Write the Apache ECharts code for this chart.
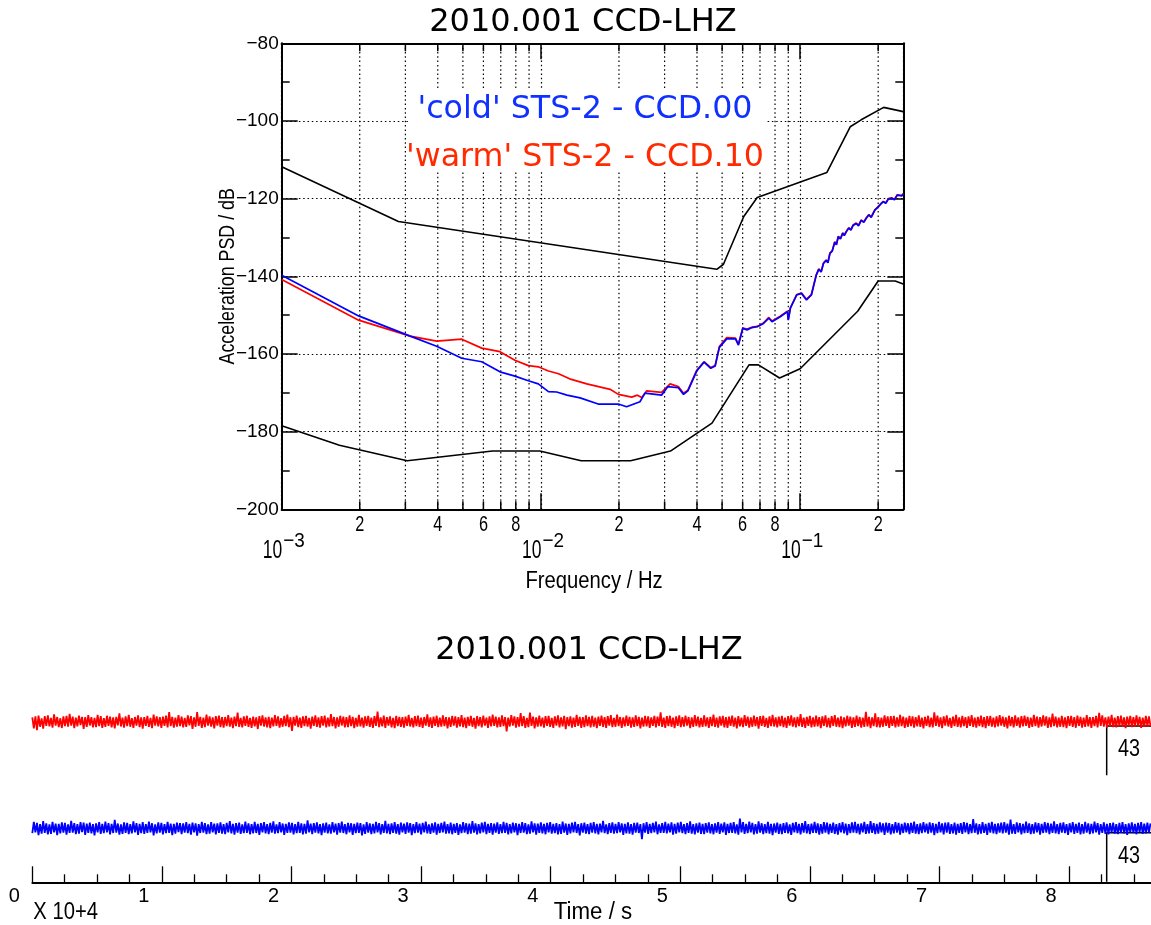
<!DOCTYPE html>
<html><head><meta charset="utf-8">
<script src="https://cdn.jsdelivr.net/npm/echarts@6/dist/echarts.min.js"></script>
<style>html,body{margin:0;padding:0;background:#fff}#c{width:1151px;height:925px}</style>
</head><body><div id="c"></div>
<script>
// ---------- text ----------
const titleText = '2010.001 CCD-LHZ';
const legendBlue = "'cold' STS-2 - CCD.00";
const legendRed = "'warm' STS-2 - CCD.10";
const xName = 'Frequency / Hz';
const yName = 'Acceleration PSD / dB';
const timeName = 'Time / s';
const timeExp = 'X 10+4';
const scaleBarLabel = '43';

// ---------- PSD data (frequency Hz, dB) ----------
const psdFreqBlue = [0.001,0.00198,0.00313,0.00396,0.00495,0.00591,0.00695,0.00794,0.00894,0.00977,0.01069,0.0115,0.0126,0.01416,0.01663,0.0185,0.0199,0.0214,0.0241,0.0252,0.0292,0.0309,0.0339,0.0355,0.0369,0.0399,0.0426,0.0452,0.0470,0.0488,0.0521,0.0563,0.0578,0.0601,0.0624,0.0652,0.0683,0.0720,0.0757,0.0779,0.0838,0.0893,0.0900,0.0917,0.0970,0.1012,0.1058,0.1105,0.1154,0.118,0.1205,0.1230,0.126,0.128,0.1303,0.133,0.136,0.138,0.1403,0.143,0.146,0.148,0.1508,0.154,0.157,0.160,0.1646,0.168,0.172,0.176,0.1797,0.184,0.188,0.1945,0.199,0.204,0.2093,0.214,0.219,0.2254,0.231,0.237,0.2467,0.25];
const psdBlue = [-139.7,-150.2,-155.4,-158.0,-161.1,-162.0,-164.6,-165.7,-166.9,-167.7,-169.7,-169.8,-170.6,-171.3,-172.9,-172.9,-172.9,-173.6,-172.3,-170.1,-170.6,-168.4,-168.7,-170.4,-169.5,-164.4,-162.1,-163.7,-163.1,-158.3,-156.1,-156.1,-157.7,-153.4,-153.8,-153.2,-153.0,-152.2,-150.8,-151.7,-150.4,-149.1,-151.3,-148.2,-144.8,-144.4,-146.1,-144.8,-139.7,-138.2,-138.9,-136.7,-135.9,-136.5,-134.1,-133.5,-131.2,-131.9,-129.8,-130.4,-128.9,-129.5,-128.5,-127.6,-128.1,-126.9,-126.4,-127.0,-125.6,-126.1,-125.1,-124.2,-124.8,-122.9,-122.3,-121.5,-120.8,-121.2,-120.1,-119.9,-120.3,-119.1,-119.3,-118.8];
const psdFreqRed = [0.001,0.00198,0.00313,0.00396,0.00495,0.00591,0.00695,0.00794,0.00894,0.00977,0.01069,0.0117,0.0129,0.01503,0.01849,0.0199,0.0224,0.02355,0.0245,0.0256,0.0292,0.0315,0.0339,0.0355,0.0369,0.0399,0.0426,0.0452,0.0470,0.0488,0.0521,0.0563,0.0578,0.0601,0.0624,0.0652,0.0683,0.0720,0.0757,0.0779,0.0838,0.0893,0.0900,0.0917,0.0970,0.1012,0.1058,0.1105,0.1154,0.118,0.1205,0.1230,0.126,0.128,0.1303,0.133,0.136,0.138,0.1403,0.143,0.146,0.148,0.1508,0.154,0.157,0.160,0.1646,0.168,0.172,0.176,0.1797,0.184,0.188,0.1945,0.199,0.204,0.2093,0.214,0.219,0.2254,0.231,0.237,0.2467,0.25];
const psdRed = [-140.8,-151.3,-155.4,-156.7,-156.2,-158.5,-159.4,-161.6,-163.0,-163.3,-164.4,-165.1,-166.4,-167.7,-169.1,-170.4,-171.1,-170.6,-171.2,-169.5,-169.9,-167.7,-168.4,-170.1,-169.3,-164.2,-162.0,-163.5,-163.0,-158.1,-155.8,-155.9,-157.5,-153.3,-153.6,-153.1,-152.9,-152.1,-150.6,-151.5,-150.3,-149.0,-151.1,-148.1,-144.7,-144.3,-145.9,-144.7,-139.6,-138.1,-138.8,-136.6,-135.8,-136.4,-134.0,-133.4,-131.1,-131.8,-129.7,-130.3,-128.8,-129.4,-128.4,-127.5,-128.0,-126.8,-126.3,-126.9,-125.5,-126.0,-125.0,-124.1,-124.7,-122.8,-122.2,-121.4,-120.7,-121.1,-120.0,-119.8,-120.2,-119.0,-119.2,-118.7];
// high / low noise model curves
const nhnmFreq = [0.001,0.00282,0.0477,0.0506,0.0606,0.0683,0.1267,0.156,0.172,0.21,0.25];
const nhnmDb = [-111.8,-125.9,-138.2,-136.9,-124.6,-119.7,-113.3,-101.5,-99.7,-96.5,-97.6];
const nlnmFreq = [0.001,0.00167,0.00305,0.0065,0.0099,0.0143,0.0222,0.0316,0.0457,0.0635,0.069,0.0833,0.1,0.1667,0.2,0.2326,0.25];
const nlnmDb = [-178.5,-183.5,-187.5,-185.0,-185.0,-187.5,-187.5,-185.0,-177.8,-162.8,-162.8,-166.2,-163.8,-149.0,-141.2,-141.2,-142.0];
// log-axis tick positions
const minorFreqs = [0.002,0.003,0.004,0.005,0.006,0.007,0.008,0.009,0.02,0.03,0.04,0.05,0.06,0.07,0.08,0.09,0.2];
const decadeFreqs = [0.001, 0.01, 0.1];

// ---------- time series (one sample per traceStep seconds) ----------
const traceStep = 120;
const traceRed = [
3.8,-5.9,4.6,-7.5,5.3,-4.4,2.9,-6.1,4.9,-3.7,5.6,-4.0,3.3,-5.2,6.4,-3.5,4.1,-4.8,3.0,-5.5,4.7,-3.9,5.0,-4.3,
6.8,-3.4,4.4,-5.6,3.6,-4.1,5.4,-3.0,4.2,-6.3,3.9,-4.6,5.7,-3.3,4.0,-5.0,3.4,-4.7,6.0,-3.8,4.8,-5.3,3.1,-4.5,
5.2,-3.6,4.5,-4.9,3.7,-5.8,4.3,-3.2,7.4,-4.2,3.5,-5.1,4.6,-3.9,5.9,-4.4,3.2,-5.4,4.1,-3.5,5.5,-4.8,3.8,-6.0,
4.0,-3.7,5.1,-4.5,3.3,-5.7,6.2,-3.4,4.7,-4.1,3.9,-5.5,4.4,-3.6,5.3,-4.9,8.3,-3.8,4.2,-5.2,3.6,-4.3,5.8,-3.9,
4.5,-5.0,3.4,-4.6,5.6,-3.3,4.8,-6.2,3.7,-4.4,8.5,-3.7,4.3,-5.3,3.5,-4.8,6.1,-3.5,4.6,-4.2,3.8,-5.9,4.9,-3.4,
5.4,-4.7,3.9,-5.1,4.1,-3.8,5.7,-4.3,3.6,-5.6,4.5,-3.9,7.9,-4.6,3.4,-5.0,4.7,-3.6,5.2,-4.5,3.3,-5.4,4.4,-4.0,
3.7,-6.4,4.9,-3.5,5.5,-4.2,3.8,-4.9,4.3,-5.7,3.5,-4.1,5.8,-3.7,4.6,-5.2,3.2,-4.4,5.1,-3.9,6.3,-4.7,3.9,-8.0,
4.2,-3.4,5.3,-4.8,3.6,-5.5,4.7,-3.8,5.0,-4.3,3.3,-6.0,4.4,-3.6,5.6,-4.6,3.7,-5.1,4.8,-3.5,5.4,-4.9,3.5,-4.2,
6.6,-3.9,4.1,-5.8,3.8,-4.4,5.2,-3.3,4.5,-5.0,3.9,-4.7,5.5,-3.8,4.2,-5.6,3.4,-4.3,6.0,-4.1,3.6,-5.2,4.7,-3.7,
5.1,-4.5,3.5,-5.3,4.9,-3.6,8.8,-4.8,3.7,-4.0,5.3,-5.4,4.0,-3.5,4.6,-4.9,3.3,-5.7,5.0,-3.8,4.3,-4.6,3.9,-5.1,
4.4,-3.7,5.9,-4.2,3.4,-5.0,4.8,-3.9,5.4,-4.6,3.6,-5.5,4.1,-3.4,6.5,-4.4,3.8,-5.3,4.5,-3.6,5.2,-4.8,3.5,-4.3,
5.6,-3.8,4.0,-5.9,3.7,-4.5,5.1,-3.4,4.6,-5.2,3.9,-4.0,5.7,-4.7,3.5,-5.6,4.3,-3.7,5.0,-4.4,3.4,-6.1,4.8,-3.9,
4.1,-4.9,5.3,-3.5,3.6,-5.4,4.7,-4.1,6.2,-3.6,4.4,-5.0,3.8,-4.6,5.5,-3.9,4.0,-8.4,3.5,-4.2,5.8,-3.5,4.6,-5.1,
3.9,-4.4,7.6,-3.8,4.8,-5.3,3.4,-4.7,8.0,-3.6,4.5,-5.8,3.7,-4.3,5.4,-4.0,3.6,-5.2,4.9,-3.7,5.1,-4.6,3.3,-5.5,
4.7,-3.5,5.5,-4.9,3.8,-4.1,5.2,-6.6,4.0,-3.8,4.6,-5.1,3.5,-4.5,6.0,-3.6,4.3,-5.4,3.9,-4.7,5.6,-3.9,4.2,-5.0,
5.0,-4.2,3.6,-5.6,4.5,-3.7,5.3,-4.5,3.9,-5.3,4.8,-3.5,5.7,-4.8,3.4,-4.4,6.3,-3.9,4.1,-5.5,3.7,-4.1,5.4,-3.6,
4.3,-5.2,3.7,-4.6,5.6,-3.8,4.2,-5.9,3.5,-4.3,5.1,-4.0,4.6,-5.4,3.8,-3.6,5.0,-4.9,4.4,-3.7,8.2,-4.5,3.6,-5.3,
4.9,-3.9,5.2,-4.4,3.5,-5.7,4.6,-3.6,5.5,-4.8,3.9,-4.2,5.3,-3.5,4.1,-5.6,3.7,-4.6,5.8,-3.8,4.5,-5.0,3.4,-4.5,
5.5,-4.1,3.8,-5.4,4.3,-3.9,6.1,-4.6,3.6,-5.1,4.7,-3.4,5.0,-4.9,3.9,-5.5,4.4,-3.7,5.3,-4.3,3.5,-5.8,4.8,-4.0,
3.6,-4.7,5.7,-3.6,4.5,-5.2,3.8,-4.4,5.4,-3.9,4.0,-6.0,4.9,-3.7,5.2,-4.5,3.4,-5.3,4.6,-3.8,5.9,-4.2,3.7,-5.0,
4.4,-3.8,5.1,-4.8,3.5,-5.5,4.8,-3.5,5.6,-4.3,3.7,-5.0,4.2,-3.9,6.7,-4.6,3.6,-5.4,4.3,-3.6,5.0,-4.9,3.8,-4.4,
5.3,-4.0,3.9,-5.6,4.6,-3.7,5.5,-4.7,3.4,-5.2,4.9,-3.6,5.8,-4.4,3.5,-4.8,4.7,-5.7,3.8,-4.1,5.2,-3.5,4.5,-5.3,
3.8,-4.6,5.4,-3.9,4.1,-5.1,3.6,-4.5,8.6,-4.2,4.3,-5.6,3.7,-3.8,7.2,-4.7,4.0,-5.0,3.5,-4.4,5.5,-3.7,4.6,-5.5,
4.8,-3.6,5.0,-4.9,3.7,-4.3,5.9,-3.8,4.4,-5.4,3.5,-4.6,5.1,-3.9,4.7,-5.2,3.9,-4.1,5.6,-4.5,3.6,-5.9,4.2,-3.7,
5.2,-4.8,3.5,-5.0,8.1,-3.6,5.3,-4.4,3.8,-5.7,4.6,-3.5,5.5,-4.2,3.4,-5.3,4.5,-3.9,6.0,-4.6,3.7,-4.9,5.0,-3.8,
4.0,-5.5,4.7,-3.7,5.8,-4.5,3.6,-5.1,4.3,-3.9,5.4,-4.8,3.9,-5.6,4.8,-3.6,5.1,-4.3,3.5,-5.0,4.6,-4.0,5.7,-3.5,
4.5,-4.4,3.7,-5.8,5.2,-3.8,4.1,-4.9,5.6,-3.6,3.8,-5.2,4.9,-4.1,5.3,-3.7,4.2,-5.5,3.6,-4.6,5.9,-3.9,4.4,-5.1,
3.9,-4.2,5.5,-3.5,4.6,-5.4,3.8,-4.7,7.1,-3.9,4.5,-5.0,3.6,-4.4,5.2,-4.8,3.7,-5.6,4.8,-3.6,5.0,-4.5,3.9,-5.3,
5.4,-3.7,4.3,-5.1,3.5,-4.6,5.7,-4.0,4.0,-5.5,3.9,-3.8,5.1,-4.9,7.8,-3.6,5.5,-4.3,3.8,-5.2,4.4,-3.9,6.0,-4.7,
3.6,-5.0,4.9,-3.8,5.3,-4.4,3.7,-5.7,4.5,-3.5,5.0,-4.8,3.9,-4.1,5.6,-3.7,4.2,-5.3,3.5,-4.6,5.2,-4.0,4.6,-3.9];
const traceBlue = [
-4.3,5.6,-3.5,4.8,-5.9,3.7,-4.6,6.2,-3.9,4.4,-5.3,3.4,-4.9,5.7,-3.6,4.1,-6.0,3.8,-4.4,5.2,-3.7,4.7,-5.5,3.5,
-4.0,6.6,-3.8,4.5,-5.1,3.6,-4.7,5.4,-3.4,4.9,-5.8,4.0,-3.9,5.0,-4.5,3.7,-6.3,4.3,-3.6,5.5,-4.8,3.9,-4.2,5.9,
-3.5,4.6,-5.4,3.8,-4.1,7.3,-3.7,4.2,-5.6,3.5,-4.8,5.1,-3.9,4.7,-5.0,3.6,-4.4,6.0,-3.5,4.5,-5.7,3.9,-4.3,5.3,
-4.9,3.7,-4.0,5.8,-3.6,4.4,-6.1,3.5,-4.5,5.2,-3.8,4.8,-5.3,3.6,-4.2,5.6,-3.9,4.1,-5.9,3.8,-4.6,5.0,-3.4,4.6,
-5.2,4.2,-3.7,5.5,-4.3,3.9,-5.6,4.9,-3.5,4.3,-6.4,3.7,-4.1,5.7,-3.8,4.6,-5.1,3.5,-4.7,5.3,-3.6,4.0,-5.4,4.4,
-3.9,5.1,-4.6,3.6,-5.0,4.7,-3.6,6.3,-4.4,3.8,-5.5,4.5,-3.7,5.0,-4.9,3.4,-4.2,5.8,-3.9,4.3,-5.2,3.6,-4.5,5.6,
-4.1,3.9,-5.7,4.6,-3.5,5.3,-4.4,3.7,-5.0,4.8,-3.8,6.1,-4.7,3.5,-4.3,5.4,-3.6,4.2,-5.8,3.9,-4.0,5.1,-3.7,4.7,
-5.4,3.6,-4.2,5.6,-3.9,4.4,-5.3,3.8,-4.6,7.0,-3.5,4.1,-5.1,4.6,-3.7,5.2,-4.5,3.6,-6.0,4.3,-3.8,4.9,-4.4,3.5,
-4.7,5.5,-3.6,4.0,-5.5,4.5,-3.8,5.9,-4.1,3.7,-5.2,4.8,-3.5,4.4,-5.7,3.8,-4.3,5.0,-3.9,4.6,-6.2,3.5,-4.8,5.4,
-3.7,4.3,-5.0,3.9,-4.5,5.7,-3.6,4.6,-5.4,3.6,-4.0,6.4,-4.4,3.8,-5.1,4.2,-3.9,5.3,-4.6,3.7,-5.6,4.9,-3.5,4.1,
-4.8,5.2,-3.8,4.5,-6.0,3.6,-4.3,5.5,-3.7,4.0,-5.3,4.7,-3.6,5.8,-4.5,3.5,-4.9,4.3,-3.8,5.1,-5.5,3.9,-4.1,4.8,
-3.6,5.9,-4.7,3.7,-4.4,5.0,-5.2,3.9,-3.9,4.6,-5.8,3.5,-4.2,5.4,-3.7,4.4,-5.0,4.0,-4.6,6.2,-3.8,4.2,-5.3,3.6,
-4.5,4.9,-3.5,5.6,-5.1,3.8,-4.0,4.5,-5.6,4.1,-3.7,5.2,-4.8,3.6,-4.3,5.7,-3.9,4.7,-5.4,3.7,-4.5,5.0,-3.6,4.4,
-5.9,3.9,-4.1,5.3,-3.8,4.6,-5.0,3.5,-4.6,6.0,-3.6,4.3,-5.5,4.0,-3.9,5.1,-4.4,3.8,-5.2,4.8,-3.5,5.5,-4.7,3.9,
-4.2,4.5,-5.3,3.6,-4.9,5.8,-3.7,4.2,-5.7,3.9,-4.4,4.9,-3.6,5.6,-4.1,3.7,-6.1,4.4,-3.8,5.0,-4.6,3.6,-5.0,4.7,
-3.8,5.4,-4.5,3.8,-5.4,4.1,-3.6,6.5,-4.3,3.5,-5.1,4.6,-3.9,5.2,-4.7,3.9,-4.2,5.5,-3.5,4.3,-5.8,3.8,-4.4,5.1,
-4.6,3.7,-5.6,4.8,-3.7,5.0,-4.1,3.6,-9.6,4.4,-3.8,5.3,-4.9,3.9,-4.3,4.7,-3.6,5.9,-5.2,3.5,-4.0,4.6,-3.9,5.6,
-4.4,4.1,-3.5,5.2,-5.5,3.8,-4.7,4.9,-3.6,5.7,-4.2,3.7,-5.0,4.5,-3.9,6.1,-4.6,3.6,-5.3,4.2,-3.7,5.0,-4.8,3.9,
-5.1,4.6,-3.8,5.2,-4.5,3.6,-5.2,4.3,-3.7,5.5,-4.9,4.0,-3.6,5.1,-5.7,3.8,-4.1,4.8,-3.9,5.4,-4.4,3.5,-5.6,8.4,
-3.6,5.3,-4.8,3.9,-4.2,5.8,-3.5,4.7,-5.4,3.7,-4.6,6.0,-3.8,4.4,-5.1,3.6,-4.3,5.6,-4.7,3.8,-5.9,4.2,-3.7,4.9,
-4.9,3.8,-5.0,4.6,-3.9,5.2,-4.4,3.5,-5.8,4.8,-3.6,5.5,-4.2,3.9,-5.3,4.5,-3.8,6.3,-4.5,3.7,-5.1,4.1,-3.9,5.7,
-4.1,4.4,-5.6,3.6,-4.6,5.4,-3.7,4.9,-5.2,3.8,-4.0,5.0,-4.8,3.6,-5.5,4.6,-3.5,5.3,-4.4,4.0,-6.0,3.7,-4.2,5.2,
-3.8,5.7,-4.3,3.9,-5.4,4.2,-3.6,5.6,-4.9,3.7,-4.5,6.2,-3.9,4.5,-5.0,3.8,-4.7,5.1,-3.6,4.3,-5.7,4.9,-3.7,4.6,
-5.3,3.6,-4.4,5.5,-3.8,4.7,-5.6,3.9,-4.1,5.0,-3.5,4.4,-5.2,4.8,-3.9,5.9,-4.6,3.7,-5.0,4.2,-4.3,5.4,-3.6,4.0,
-4.7,5.1,-3.7,4.5,-5.9,3.8,-4.2,5.7,-3.6,4.3,-5.3,4.9,-3.8,5.2,-4.8,3.6,-4.4,5.0,-5.5,3.9,-3.9,4.6,-4.9,5.5,
-3.6,4.8,-5.1,3.7,-4.3,8.1,-3.9,4.4,-5.4,3.6,-4.7,5.3,-4.0,3.8,-5.7,4.7,-3.7,5.6,-4.5,3.9,-5.0,4.2,-3.8,5.0,
-4.4,5.4,-3.8,4.1,-5.6,7.6,-4.6,3.7,-4.9,5.1,-3.6,4.6,-5.3,3.9,-4.2,5.8,-3.9,4.3,-5.0,3.6,-4.7,5.2,-3.5,4.5,
-5.5,3.9,-4.1,5.5,-3.7,4.8,-5.2,4.0,-3.9,6.0,-4.5,3.6,-5.0,4.7,-3.8,5.1,-4.3,3.7,-5.8,4.4,-3.6,5.3,-4.8,3.8,
-4.0,5.0,-5.4,3.6,-4.6,5.6,-3.8,4.2,-5.1,3.9,-4.4,5.9,-3.6,4.5,-5.5,3.7,-4.0,5.2,-4.9,3.8,-5.3,4.6,-3.7,4.9,
-4.6,3.7,-5.0,4.8,-3.9,5.4,-4.5,3.6,-5.7,4.3,-3.8,5.1,-4.2,3.9,-5.2,4.7,-3.6,5.5,-4.8,4.0,-4.4,5.0,-3.9,4.3];
// amplitude scale bars (time s, value)
const scaleBarT = [90000, 82900, 82900];
const scaleBarRed = [-3.76, -3.76, -46.76];
const scaleBarBlue = [-3.85, -3.85, -46.85];

// ---------- axis settings ----------
const yMin = -200, yMax = -80, yStep = 20;
const fMin = 0.001, fMax = 0.25;
const tMax = 90000, tStep = 10000;

const zip = (a, b) => a.map((v, i) => [v, b[i]]);
const SANS = 'Liberation Sans';
const BLACK = '#000';
const dotted = {color: BLACK, width: 1.2, type: [1.5, 2.8]};

function textEl(text, x, y, size, family, color, align, sx, rot) {
  return {type: 'text', x: x, y: y, z: 20, scaleX: sx || 1, scaleY: 1, rotation: rot || 0,
    style: {text: text, fill: color || BLACK, fontSize: size, fontFamily: family,
      align: align || 'center', verticalAlign: 'middle',
      textAlign: align || 'center', textVerticalAlign: 'middle'}};
}

const chart = echarts.init(document.getElementById('c'), null, {renderer: 'canvas'});
const option = {
  animation: false,
  backgroundColor: '#fff',
  grid: [
    {left: 281.7, top: 43.3, width: 621.6, height: 466, outerBoundsMode: 'none', containLabel: false},
    {left: 32.3, top: 653.13, width: 1166.4, height: 137.14, outerBoundsMode: 'none', containLabel: false},
    {left: 32.3, top: 759.73, width: 1166.4, height: 137.14, outerBoundsMode: 'none', containLabel: false},
    {left: 32.3, top: 800, width: 1166.4, height: 82.3, outerBoundsMode: 'none', containLabel: false}
  ],
  xAxis: [
    {type: 'log', logBase: 10, gridIndex: 0, min: fMin, max: fMax, position: 'bottom',
      axisLine: {show: true, onZero: false, lineStyle: {color: BLACK, width: 2}},
      axisTick: {show: true, inside: true, length: 16, lineStyle: {color: BLACK, width: 1.5}},
      minorTick: {show: false}, minorSplitLine: {show: false},
      axisLabel: {show: false},
      splitLine: {show: true, lineStyle: dotted}},
    {type: 'log', logBase: 10, gridIndex: 0, min: fMin, max: fMax, position: 'top',
      axisLine: {show: true, onZero: false, lineStyle: {color: BLACK, width: 2}},
      axisTick: {show: true, inside: true, length: 16, lineStyle: {color: BLACK, width: 1.5}},
      axisLabel: {show: false}, splitLine: {show: false}},
    {type: 'value', gridIndex: 1, min: 0, max: tMax, show: false},
    {type: 'value', gridIndex: 2, min: 0, max: tMax, show: false},
    {type: 'value', gridIndex: 3, min: 0, max: tMax, interval: tStep, position: 'bottom',
      axisLine: {show: true, onZero: false, lineStyle: {color: BLACK, width: 1.8}},
      axisTick: {show: true, inside: true, length: 16, lineStyle: {color: BLACK, width: 1.3}},
      minorTick: {show: true, splitNumber: 4, length: 8, lineStyle: {color: BLACK, width: 1.3}},
      axisLabel: {show: true, interval: 0, margin: 4, fontSize: 20, fontFamily: SANS, color: BLACK,
        padding: [0, 36, 0, 0],
        formatter: v => (v % tStep === 0 && v <= 80000) ? String(v / tStep) : ''},
      splitLine: {show: false}}
  ],
  yAxis: [
    {type: 'value', gridIndex: 0, min: yMin, max: yMax, interval: yStep, position: 'left',
      axisLine: {show: true, onZero: false, lineStyle: {color: BLACK, width: 2}},
      axisTick: {show: true, inside: true, length: 16, lineStyle: {color: BLACK, width: 1.5}},
      minorTick: {show: true, splitNumber: 2, length: 8, lineStyle: {color: BLACK, width: 1.5}},
      axisLabel: {margin: 3, fontSize: 19, fontFamily: SANS, color: BLACK,
        formatter: v => String(v).replace('-', '\u2212')},
      splitLine: {show: true, lineStyle: dotted}},
    {type: 'value', gridIndex: 0, min: yMin, max: yMax, interval: yStep, position: 'right',
      axisLine: {show: true, onZero: false, lineStyle: {color: BLACK, width: 2}},
      axisTick: {show: true, inside: true, length: 16, lineStyle: {color: BLACK, width: 1.5}},
      minorTick: {show: true, splitNumber: 2, length: 8, lineStyle: {color: BLACK, width: 1.5}},
      axisLabel: {show: false}, splitLine: {show: false}},
    {type: 'value', gridIndex: 1, min: -60, max: 60, show: false},
    {type: 'value', gridIndex: 2, min: -60, max: 60, show: false},
    {type: 'value', gridIndex: 3, min: 0, max: 1, show: false}
  ],
  series: [
    // minor log gridlines, ticks and their labels
    {type: 'custom', coordinateSystem: 'cartesian2d', xAxisIndex: 0, yAxisIndex: 0, silent: true, z: 1, clip: false,
      data: minorFreqs.map(f => [f, yMin]),
      renderItem: function (params, api) {
        const f = api.value(0);
        const pb = api.coord([f, yMin]);
        const pt = api.coord([f, yMax]);
        const x = pb[0];
        const digit = Math.round(f / Math.pow(10, Math.floor(Math.log10(f) + 1e-9)));
        const children = [
          {type: 'line', shape: {x1: x, y1: pb[1], x2: x, y2: pt[1]}, style: {stroke: BLACK, lineWidth: 1.2, lineDash: [1.5, 2.8]}},
          {type: 'line', shape: {x1: x, y1: pb[1], x2: x, y2: pb[1] - 8}, style: {stroke: BLACK, lineWidth: 1.5}},
          {type: 'line', shape: {x1: x, y1: pt[1], x2: x, y2: pt[1] + 8}, style: {stroke: BLACK, lineWidth: 1.5}}
        ];
        if (digit % 2 === 0) {
          children.push(textEl(String(digit), x, pb[1] + 16, 22, SANS, BLACK, 'center', 0.74));
        }
        return {type: 'group', children: children};
      }},
    // decade labels 10^n
    {type: 'custom', coordinateSystem: 'cartesian2d', xAxisIndex: 0, yAxisIndex: 0, silent: true, z: 1, clip: false,
      data: decadeFreqs.map(f => [f, yMin]),
      renderItem: function (params, api) {
        const f = api.value(0);
        const pb = api.coord([f, yMin]);
        const e = Math.round(Math.log10(f));
        return {type: 'group', children: [
          textEl('10', pb[0] + 0.5, pb[1] + 42, 25, SANS, BLACK, 'right', 0.7),
          textEl('\u2212' + (-e), pb[0] + 1.5, pb[1] + 31.5, 21, SANS, BLACK, 'left', 0.9)
        ]};
      }},
    {type: 'line', name: 'NHNM', xAxisIndex: 0, yAxisIndex: 0, data: zip(nhnmFreq, nhnmDb), symbol: 'none', silent: true,
      lineStyle: {color: BLACK, width: 1.6}, z: 2},
    {type: 'line', name: 'NLNM', xAxisIndex: 0, yAxisIndex: 0, data: zip(nlnmFreq, nlnmDb), symbol: 'none', silent: true,
      lineStyle: {color: BLACK, width: 1.6}, z: 2},
    {type: 'line', name: legendRed, xAxisIndex: 0, yAxisIndex: 0, data: zip(psdFreqRed, psdRed), symbol: 'none', silent: true,
      lineStyle: {color: '#ff0000', width: 1.7}, z: 3},
    {type: 'line', name: legendBlue, xAxisIndex: 0, yAxisIndex: 0, data: zip(psdFreqBlue, psdBlue), symbol: 'none', silent: true,
      lineStyle: {color: '#0000ff', width: 1.7}, z: 4},
    {type: 'line', name: 'scaleRed', xAxisIndex: 2, yAxisIndex: 2, data: zip(scaleBarT, scaleBarRed), symbol: 'none', silent: true,
      lineStyle: {color: BLACK, width: 1.5}, z: 2, clip: false},
    {type: 'line', name: 'scaleBlue', xAxisIndex: 3, yAxisIndex: 3, data: zip(scaleBarT, scaleBarBlue), symbol: 'none', silent: true,
      lineStyle: {color: BLACK, width: 1.5}, z: 2, clip: false},
    {type: 'line', name: 'CCD.10', xAxisIndex: 2, yAxisIndex: 2, data: traceRed.map((v, i) => [i * traceStep, v]),
      symbol: 'none', silent: true, lineStyle: {color: '#ff0000', width: 1.8, join: 'bevel'}, z: 3},
    {type: 'line', name: 'CCD.00', xAxisIndex: 3, yAxisIndex: 3, data: traceBlue.map((v, i) => [i * traceStep, v]),
      symbol: 'none', silent: true, lineStyle: {color: '#0000ff', width: 1.8, join: 'bevel'}, z: 3}
  ],
  graphic: [
    {type: 'rect', z: 10, shape: {x: 408, y: 89, width: 358, height: 83}, style: {fill: '#fff'}},
    textEl(legendBlue, 585, 109.5, 31.7, 'DejaVu Sans', '#1030ff'),
    textEl(legendRed, 585, 157.5, 31.7, 'DejaVu Sans', '#ff2a00'),
    textEl(titleText, 583, 22.5, 32, 'DejaVu Sans'),
    textEl(titleText, 589, 651, 32, 'DejaVu Sans'),
    textEl(xName, 594, 581.5, 23, SANS, BLACK, 'center', 0.88),
    textEl(yName, 228, 276.3, 22, SANS, BLACK, 'center', 0.81, Math.PI / 2),
    textEl(scaleBarLabel, 1129, 750, 23, SANS, BLACK, 'center', 0.86),
    textEl(scaleBarLabel, 1129, 856.5, 23, SANS, BLACK, 'center', 0.86),
    textEl(timeExp, 33.3, 913, 23, SANS, BLACK, 'left', 0.88),
    textEl(timeName, 593, 913, 23, SANS, BLACK, 'center', 0.97)
  ]
};
chart.setOption(option);
</script>
</body></html>
